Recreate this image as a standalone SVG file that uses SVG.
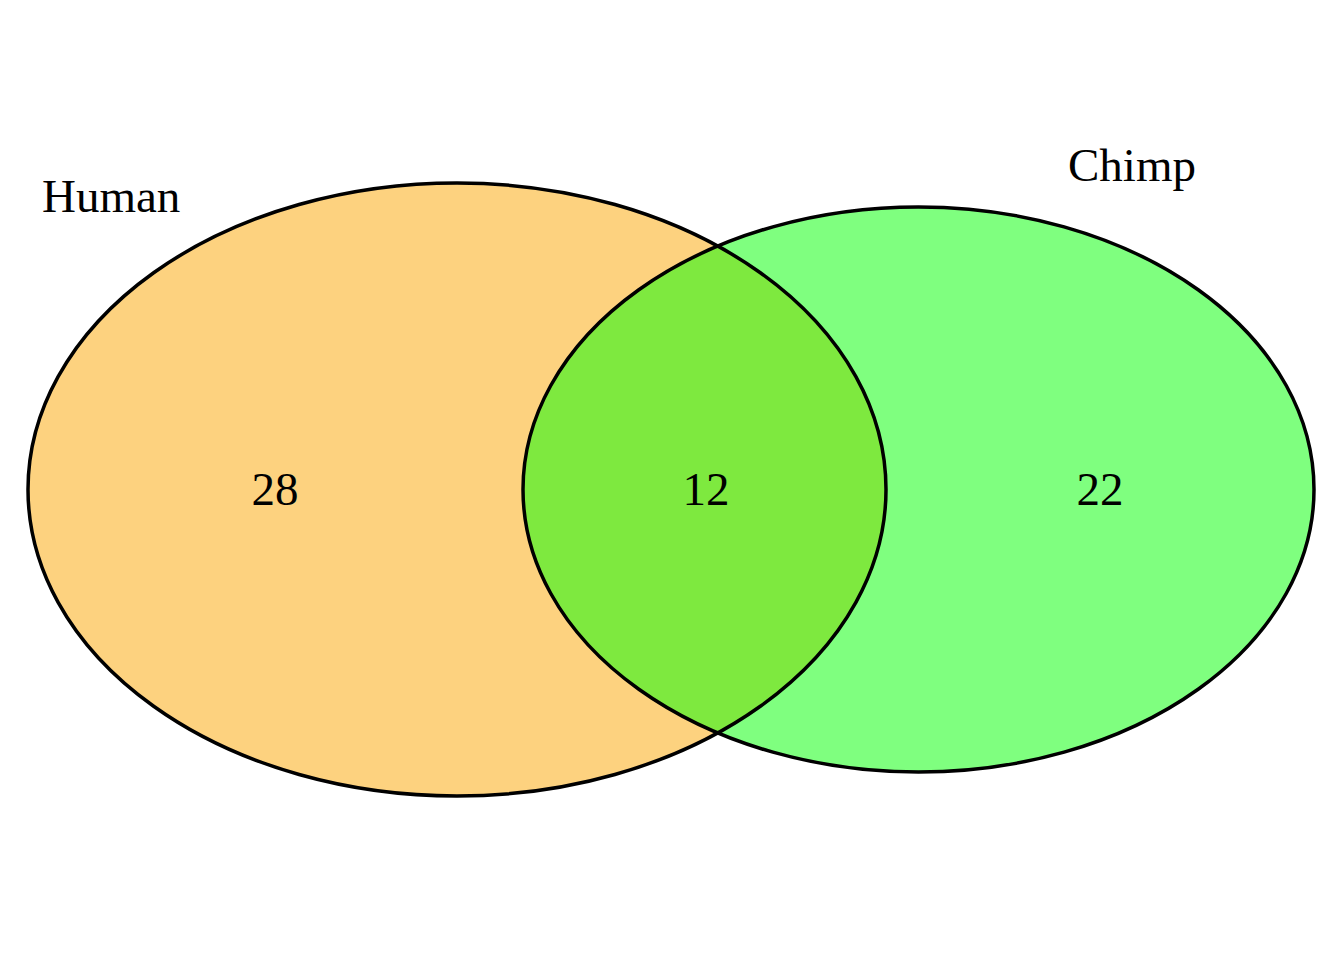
<svg xmlns="http://www.w3.org/2000/svg" width="1344" height="960" viewBox="0 0 1344 960">
<style>
.lbl{font-family:"Liberation Serif","Times New Roman",serif;font-size:47px;fill:#000}
.num{text-anchor:middle}
.edge{fill:none;stroke:#000;stroke-width:3.5}
</style>
<rect width="1344" height="960" fill="#fff"/>
<g id="fills">
<ellipse id="human-fill" cx="457" cy="489.5" rx="429" ry="306.5" fill="#FBA500" fill-opacity="0.5"/>
<ellipse id="chimp-fill" cx="918.5" cy="489.5" rx="395.5" ry="282.5" fill="#00FF00" fill-opacity="0.5"/>
</g>
<g id="human">
<ellipse class="edge" cx="457" cy="489.5" rx="429" ry="306.5"/>
<text class="lbl" x="42" y="212">Human</text>
<text class="lbl num" x="275" y="505">28</text>
</g>
<g id="chimp">
<ellipse class="edge" cx="918.5" cy="489.5" rx="395.5" ry="282.5"/>
<text class="lbl" x="1068" y="181">Chimp</text>
<text class="lbl num" x="1100" y="505">22</text>
</g>
<g id="overlap">
<text class="lbl num" x="706" y="505">12</text>
</g>
</svg>
